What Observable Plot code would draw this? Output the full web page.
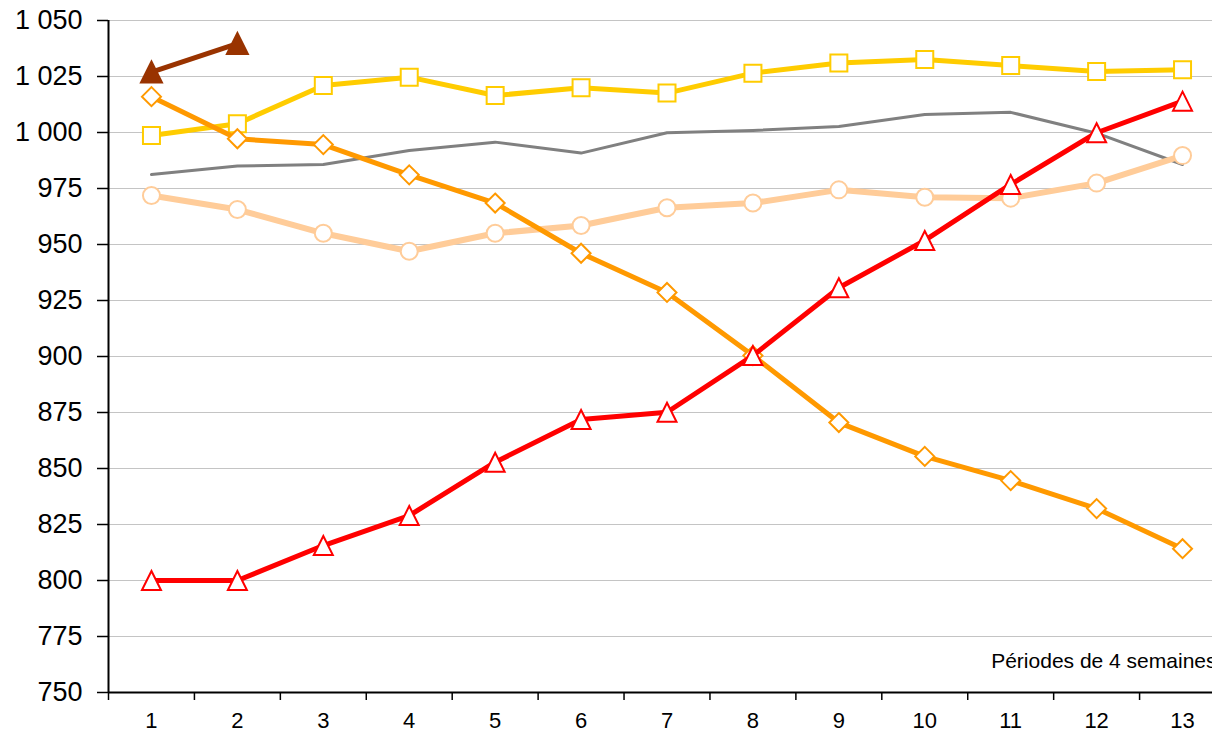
<!DOCTYPE html>
<html><head><meta charset="utf-8">
<script src="https://cdn.jsdelivr.net/npm/d3@7"></script>
<script src="https://cdn.jsdelivr.net/npm/@observablehq/plot@0.6"></script>
<style>html,body{margin:0;padding:0;background:#fff;overflow:hidden}svg{display:block;max-width:none!important}</style>
</head><body><div id="chart"></div>
<script>
const periods = [1, 2, 3, 4, 5, 6, 7, 8, 9, 10, 11, 12, 13];
const yTicks = [750, 775, 800, 825, 850, 875, 900, 925, 950, 975, 1000, 1025, 1050];
const xLabel = "Périodes de 4 semaines";

const squareSeries   = [998.7, 1003.9, 1021, 1024.7, 1016.5, 1020, 1017.6, 1026.5, 1031, 1032.6, 1029.9, 1027.2, 1028];
const greySeries     = [981.2, 985, 985.7, 992, 995.7, 990.8, 999.9, 1000.9, 1002.7, 1008, 1009, 999.7, 985.7];
const circleSeries   = [971.9, 965.6, 955, 947, 955, 958.5, 966.4, 968.5, 974.4, 971.1, 970.7, 977.4, 989.7];
const diamondSeries  = [1016, 997.2, 994.6, 981.1, 968.5, 946.1, 928.6, 900.4, 870.5, 855.4, 844.6, 832.1, 814.2];
const triangleSeries = [800, 800, 815.6, 829, 852.8, 871.9, 875.1, 900.4, 930.7, 951.8, 976.8, 999.9, 1014];
const brownPeriods   = [1, 2];
const brownSeries    = [1027, 1039.7];

const rows = (xs, ys) => xs.map((p, i) => ({period: p, value: ys[i]}));
const boundaries = d3.range(0, periods.length + 1).map(i => i + 0.5);
const fmt = v => d3.format(",")(v).replace(/,/g, " ");

// Excel-like marker shapes (centered in their bounding box)
const rOf = size => Math.sqrt(size / Math.PI);
const sqSym  = {draw(c, s){const r = rOf(s); c.moveTo(-r,-r); c.lineTo(r,-r); c.lineTo(r,r); c.lineTo(-r,r); c.closePath();}};
const triSym = {draw(c, s){const r = rOf(s); c.moveTo(0,-r); c.lineTo(r,r); c.lineTo(-r,r); c.closePath();}};
const diaSym = {draw(c, s){const r = rOf(s); c.moveTo(0,-r); c.lineTo(r,0); c.lineTo(0,r); c.lineTo(-r,0); c.closePath();}};

function series(data, color, lw, symbol, r, fill = "white") {
  const m = [Plot.line(data, {x: "period", y: "value", stroke: color, strokeWidth: lw, strokeLinejoin: "round"})];
  if (symbol) m.push(Plot.dot(data, {x: "period", y: "value", symbol, r, fill, stroke: color, strokeWidth: 2}));
  return m;
}

const chart = Plot.plot({
  width: 1212, height: 733,
  marginLeft: 108, marginRight: 0, marginTop: 20, marginBottom: 41,
  x: {domain: [0.5, 13.5], range: [108, 1225]},
  y: {domain: [750, 1050]},
  style: {fontFamily: "'Liberation Sans', Arial, sans-serif", background: "white", color: "black", maxWidth: "none"},
  marks: [
    Plot.ruleY(yTicks.filter(d => d > 750), {stroke: "#c4c4c4", strokeWidth: 1.2}),
    Plot.axisY({ticks: yTicks, tickSize: 11, tickPadding: 15, tickFormat: fmt, fontSize: 27, label: null, color: "black", strokeWidth: 1.5}),
    Plot.axisX({ticks: boundaries.filter(b => b < 13.5), tickSize: 8, tickFormat: () => "", label: null, color: "black", strokeWidth: 1.5}),
    Plot.axisX({ticks: periods, tickSize: 0, tickPadding: 20, fontSize: 22, label: null, color: "black"}),
    Plot.ruleX([0.5], {stroke: "black", strokeWidth: 2}),
    Plot.ruleY([750], {stroke: "black", strokeWidth: 2}),
    ...series(rows(periods, greySeries), "#808080", 3, null),
    ...series(rows(periods, circleSeries), "#FFCC99", 6, "circle", 8.5),
    ...series(rows(periods, squareSeries), "#FFCC00", 5, sqSym, 8.5),
    ...series(rows(periods, diamondSeries), "#FF9900", 5, diaSym, 9.5),
    ...series(rows(periods, triangleSeries), "#FF0000", 5, triSym, 9.5),
    ...series(rows(brownPeriods, brownSeries), "#993300", 5, triSym, 10.5, "#993300"),
    Plot.text([xLabel], {frameAnchor: "bottom-right", textAnchor: "end", lineAnchor: "middle", dx: 4, dy: -31, fontSize: 21, fill: "black"})
  ]
});
document.getElementById("chart").appendChild(chart);
</script>
</body></html>
